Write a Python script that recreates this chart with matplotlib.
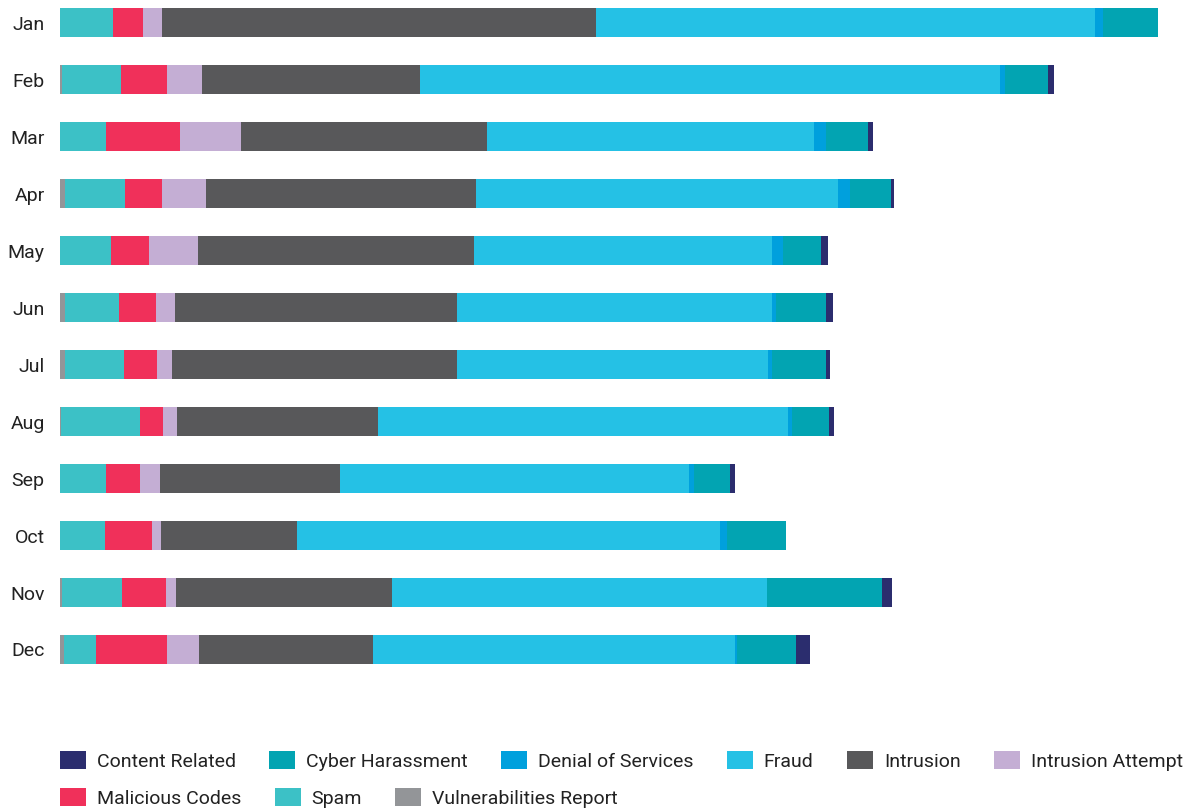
import matplotlib
matplotlib.use("Agg")
import matplotlib.pyplot as plt
from matplotlib.patches import Patch
import numpy as np

months = ["Jan", "Feb", "Mar", "Apr", "May", "Jun", "Jul", "Aug", "Sep", "Oct", "Nov", "Dec"]

vulnerabilities_report = [0, 2.3, 0, 5, 0, 5, 5, 1.3, 0, 0, 1.7, 3.7]
spam = [53, 58.7, 46, 60, 51, 54.3, 58.7, 79, 46, 44.7, 60.3, 32]
malicious_codes = [30, 46, 74, 37, 38, 36.4, 33.3, 23, 34, 47, 44, 71.3]
intrusion_attempt = [19, 35, 61, 44, 49, 19.6, 15, 13.4, 20, 9.3, 9.7, 31.7]
intrusion = [434, 218, 246, 270, 276, 281.7, 285, 201.3, 180, 135.7, 216, 174]
fraud = [499, 580, 327.3, 362, 297.7, 314.7, 310.7, 410, 349, 423.3, 375, 362.3]
denial_of_services = [8, 5, 11.7, 11.7, 11.3, 4, 4.3, 4.3, 5, 7.3, 0.6, 1.7]
cyber_harassment = [55, 43, 42, 41.3, 38, 50, 53.7, 36.4, 36, 58.7, 114.3, 59.3]
content_related = [0, 5.7, 5.3, 2.7, 7.3, 7.3, 4.3, 5.3, 5, 0, 10.3, 14]

# stacking order (left to right)
stack = [
    ("Vulnerabilities Report", vulnerabilities_report, "#939598"),
    ("Spam", spam, "#3cc1c6"),
    ("Malicious Codes", malicious_codes, "#f0305a"),
    ("Intrusion Attempt", intrusion_attempt, "#c4aed4"),
    ("Intrusion", intrusion, "#58585a"),
    ("Fraud", fraud, "#25c1e5"),
    ("Denial of Services", denial_of_services, "#00a0dd"),
    ("Cyber Harassment", cyber_harassment, "#02a4b2"),
    ("Content Related", content_related, "#2b2d6e"),
]

legend_order = ["Content Related", "Cyber Harassment", "Denial of Services", "Fraud",
                "Intrusion", "Intrusion Attempt", "Malicious Codes", "Spam",
                "Vulnerabilities Report"]

plt.rcParams['font.family'] = ['Roboto', 'DejaVu Sans']

fig = plt.figure(figsize=(11.9, 8.11), dpi=100)
ax = fig.add_axes([60 / 1190, 1 - 700 / 811, 1120 / 1190, 700 / 811])

y = np.arange(len(months))
left = np.zeros(len(months))
colors = {}
for name, vals, col in stack:
    vals = np.array(vals, dtype=float)
    ax.barh(y, vals, left=left, height=0.51, color=col, linewidth=0)
    left += vals
    colors[name] = col

ax.set_xlim(0, 1120)
ax.set_ylim(11.886, -0.395)
ax.set_yticks(y)
ax.set_yticklabels(months, fontsize=14, color="#222222")
ax.tick_params(axis="y", length=0, pad=11)
ax.set_xticks([])
for s in ax.spines.values():
    s.set_visible(False)

handles = {n: Patch(facecolor=colors[n], edgecolor="none") for n in legend_order}
common = dict(frameon=False, fontsize=14, handlelength=1.34, handleheight=1.03,
              handletextpad=0.57, columnspacing=1.7, borderaxespad=0, borderpad=0,
              labelcolor="#222222")
leg1 = fig.legend([handles[n] for n in legend_order[:6]], legend_order[:6], ncol=6,
                  loc="center left", bbox_to_anchor=(60 / 1190, 1 - 761 / 811), **common)
leg2 = fig.legend([handles[n] for n in legend_order[6:]], legend_order[6:], ncol=3,
                  loc="center left", bbox_to_anchor=(60 / 1190, 1 - 798 / 811), **common)

fig.savefig("out.png", dpi=100)
